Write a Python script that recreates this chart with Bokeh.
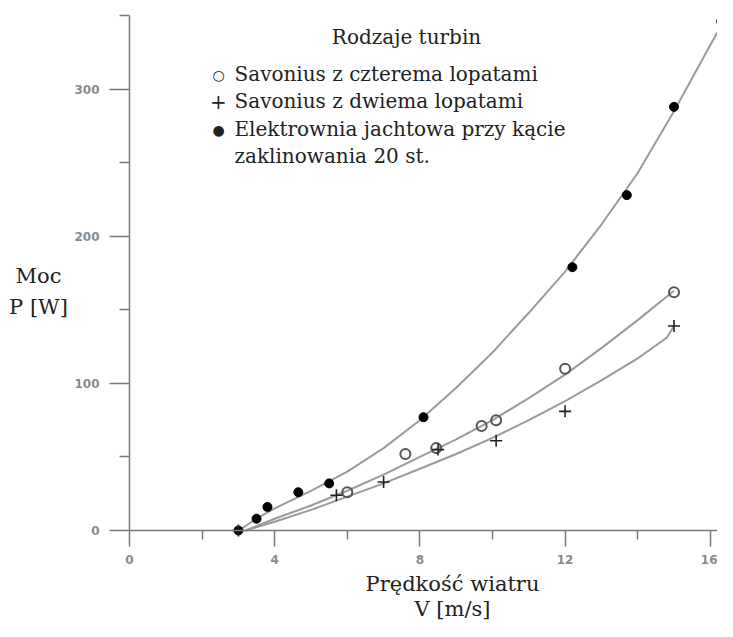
from bokeh.plotting import figure
from bokeh.models import Range1d, FixedTicker, Label
from bokeh.embed import file_html
from bokeh.resources import INLINE

# ---- data ----
# Savonius z czterema lopatami (open circles)
v_four = [6.0, 7.6, 8.45, 9.7, 10.1, 12.0, 15.0]
p_four = [26, 52, 56, 71, 75, 110, 162]
# Savonius z dwiema lopatami (plus)
v_two = [3.0, 5.7, 7.0, 8.5, 10.1, 12.0, 15.0]
p_two = [0, 24, 33, 55, 61, 81, 139]
# Elektrownia jachtowa (filled)
v_yacht = [3.0, 3.5, 3.8, 4.65, 5.5, 8.1, 12.2, 13.7, 15.0, 16.3]
p_yacht = [0, 8, 16, 26, 32, 77, 179, 228, 288, 346]

# fitted curves as drawn in the picture
cv_yacht = [3.0, 3.5, 4, 5, 6, 7, 8, 9, 10, 11, 12, 13, 14, 15, 16, 16.5]
cp_yacht = [0, 8, 15, 27, 40, 56, 75, 97, 121, 148, 176, 208, 243, 285, 330, 352]
cv_four = [3.2, 4, 5, 6, 7, 8, 9, 10, 11, 12, 13, 14, 15]
cp_four = [0, 8, 17, 27, 38, 50, 62, 75, 90, 106, 124, 143, 163]
cv_two = [3.2, 4, 5, 6, 7, 8, 9, 10, 11, 12, 13, 14, 14.8, 15.0]
cp_two = [0, 6, 14, 23, 32, 42, 52, 63, 75, 88, 102, 117, 131, 139]

x_ticks = [0, 4, 8, 12, 16]
x_minor = [2, 6, 10, 14]
y_ticks = [0, 100, 200, 300]
y_minor = [50, 150, 250, 350]

legend_title = "Rodzaje turbin"
legend_marks = ["\u25CB", "+", "\u25CF", ""]
legend_lines = ["Savonius z czterema lopatami",
                "Savonius z dwiema lopatami",
                "Elektrownia jachtowa przy kącie",
                "zaklinowania 20 st."]
y_label_lines = ["Moc", "P [W]"]
x_label_lines = ["Prędkość wiatru", "V [m/s]"]

W, H = 717, 621
X0, SX = 129, 36.3      # pixel of v=0, pixels per m/s
Y0, SY = 530, 1.471     # pixel of P=0, pixels per W

def px_to_v(px):
    return (px - X0) / SX

def py_to_p(py):
    return (Y0 - py) / SY

SERIF = "DejaVu Serif"
AX = "#7a7a7a"
TXT = "#222222"

p = figure(width=W, height=H,
           x_range=Range1d(px_to_v(0), px_to_v(W)),
           y_range=Range1d(py_to_p(H), py_to_p(0)),
           output_backend="svg", toolbar_location=None,
           min_border=0, min_border_left=0, min_border_right=0,
           min_border_top=0, min_border_bottom=0)
p.xgrid.visible = False
p.ygrid.visible = False
p.outline_line_color = None
p.background_fill_color = "white"
p.border_fill_color = "white"

p.xaxis.ticker = FixedTicker(ticks=x_ticks, minor_ticks=x_minor)
p.yaxis.ticker = FixedTicker(ticks=y_ticks, minor_ticks=y_minor)
p.xaxis.fixed_location = 0
p.yaxis.fixed_location = 0
p.xaxis.bounds = (0, px_to_v(W))
p.yaxis.bounds = (0, 350)
for ax in (p.xaxis, p.yaxis):
    ax.axis_line_color = AX
    ax.axis_line_width = 1.5
    ax.major_tick_line_color = AX
    ax.major_tick_line_width = 1.5
    ax.minor_tick_line_color = AX
    ax.minor_tick_line_width = 1.5
    ax.major_tick_in = 0
    ax.minor_tick_in = 0
    ax.major_label_text_font = "DejaVu Sans"
    ax.major_label_text_font_size = "12px"
    ax.major_label_text_font_style = "bold"
    ax.major_label_text_color = "#8a8a8a"
p.yaxis.major_tick_out = 20
p.yaxis.minor_tick_out = 10
p.xaxis.major_tick_out = 16
p.xaxis.minor_tick_out = 9
p.yaxis.major_label_standoff = 10
p.xaxis.major_label_standoff = 8

LC = "#9a9a9a"
p.line(cv_yacht, cp_yacht, line_color=LC, line_width=2)
p.line(cv_four, cp_four, line_color=LC, line_width=2)
p.line(cv_two, cp_two, line_color=LC, line_width=2)

p.scatter(v_yacht, p_yacht, marker="circle", size=9, fill_color="black", line_color="black")
p.scatter(v_four, p_four, marker="circle", size=10, fill_color=None, line_color="#555555", line_width=2)
p.scatter(v_two, p_two, marker="cross", size=12, line_color="#222222", line_width=1.6)

p.add_layout(Label(x=px_to_v(406), y=py_to_p(36), text=legend_title, text_font=SERIF,
                   text_font_size="20px", text_align="center", text_baseline="middle",
                   text_color=TXT))
ys = [73, 100, 128, 155]
for m, t, yy in zip(legend_marks, legend_lines, ys):
    if m:
        p.add_layout(Label(x=px_to_v(218), y=py_to_p(yy + 1), text=m, text_font=SERIF,
                           text_font_size="14px" if m != "+" else "20px",
                           text_align="center", text_baseline="middle", text_color=TXT))
    p.add_layout(Label(x=px_to_v(234), y=py_to_p(yy), text=t, text_font=SERIF,
                       text_font_size="20px", text_align="left", text_baseline="middle",
                       text_color=TXT))

for t, yy in zip(y_label_lines, [275, 306]):
    p.add_layout(Label(x=px_to_v(38), y=py_to_p(yy), text=t, text_font=SERIF,
                       text_font_size="21px", text_align="center", text_baseline="middle",
                       text_color=TXT))
for t, yy in zip(x_label_lines, [583, 608]):
    p.add_layout(Label(x=px_to_v(452), y=py_to_p(yy), text=t, text_font=SERIF,
                       text_font_size="21px", text_align="center", text_baseline="middle",
                       text_color=TXT))

open("out.html", "w").write(file_html(p, INLINE))
